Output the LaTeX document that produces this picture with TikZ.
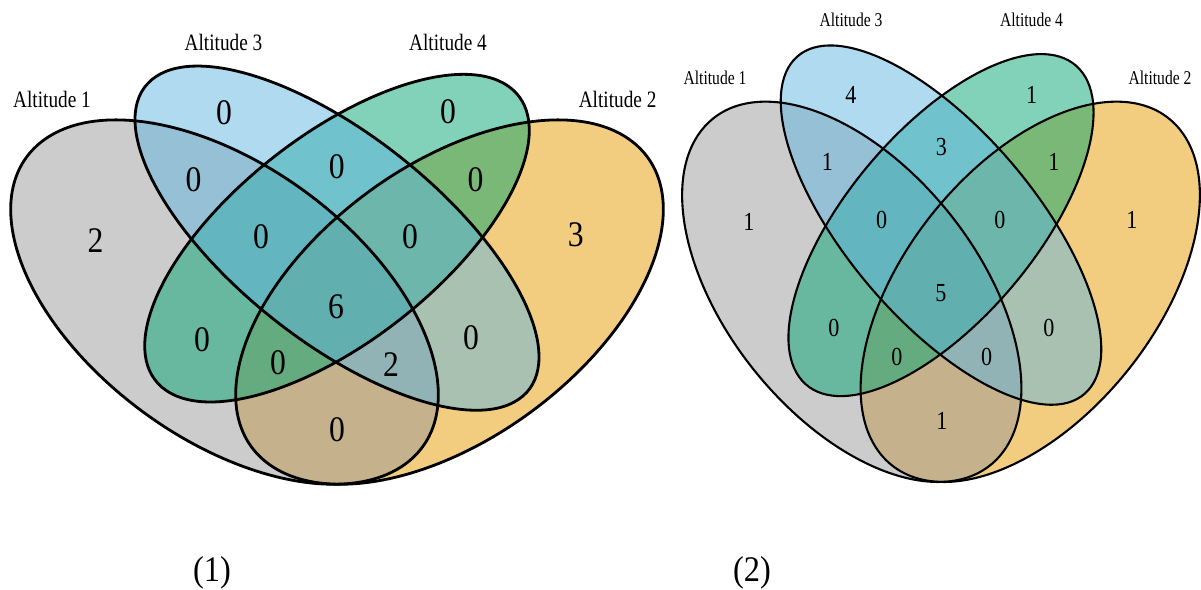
\documentclass[tikz,border=0pt]{standalone}
\usepackage{fontspec}
\setmainfont{Liberation Serif}
\definecolor{cgray}{RGB}{153,153,153}
\definecolor{cyel}{RGB}{229,155,0}
\definecolor{cgreen}{RGB}{5,165,115}
\definecolor{cblue}{RGB}{95,181,225}
\begin{document}
\begin{tikzpicture}[x=1pt,y=1pt,
  setfill/.style={fill opacity=0.5},
  labA/.style={font=\fontsize{23.5}{24}\selectfont, xscale=0.82, inner sep=0pt},
  numA/.style={font=\fontsize{36}{36}\selectfont, xscale=0.88, inner sep=0pt},
  labB/.style={font=\fontsize{19.5}{20}\selectfont, xscale=0.8, inner sep=0pt},
  numB/.style={font=\fontsize{26}{26}\selectfont, xscale=0.85, inner sep=0pt},
  caption/.style={font=\fontsize{36}{36}\selectfont, xscale=0.9, inner sep=0pt}]
\useasboundingbox (0,0) rectangle (1201,589);

% ---------- diagram (1) ----------
\begin{scope}[shift={(-38,-13.4)}, xscale=750, yscale=639]
  \fill[cyel, setfill, rotate around={45:(0.65,0.47)}] (0.65,0.47) ellipse [x radius=0.35, y radius=0.20];
  \fill[cgray, setfill, rotate around={135:(0.35,0.47)}] (0.35,0.47) ellipse [x radius=0.35, y radius=0.20];
  \fill[cgreen, setfill, rotate around={45:(0.5,0.57)}] (0.5,0.57) ellipse [x radius=0.33, y radius=0.15];
  \fill[cblue, setfill, rotate around={135:(0.5,0.57)}] (0.5,0.57) ellipse [x radius=0.35, y radius=0.15];
  \begin{scope}[line width=2.8pt]
  \draw[rotate around={45:(0.65,0.47)}] (0.65,0.47) ellipse [x radius=0.35, y radius=0.20];
  \draw[rotate around={135:(0.35,0.47)}] (0.35,0.47) ellipse [x radius=0.35, y radius=0.20];
  \draw[rotate around={45:(0.5,0.57)}] (0.5,0.57) ellipse [x radius=0.33, y radius=0.15];
  \draw[rotate around={135:(0.5,0.57)}] (0.5,0.57) ellipse [x radius=0.35, y radius=0.15];
  \end{scope}
\end{scope}

\node[labA] (a1) at (52,490) {Altitude 1};
\node[labA] (a3) at (223.5,547) {Altitude 3};
\node[labA] (a4) at (448,547) {Altitude 4};
\node[labA] (a2) at (617.6,490) {Altitude 2};

\node[numA] (n1a) at (95.6,348.5) {2};
\node[numA] (n1b) at (224,476.5) {0};
\node[numA] (n1c) at (448,477) {0};
\node[numA] (n1d) at (575.7,354) {3};
\node[numA] (n1e) at (193.6,409) {0};
\node[numA] (n1f) at (336.7,422.3) {0};
\node[numA] (n1g) at (475.6,409) {0};
\node[numA] (n1h) at (261,352) {0};
\node[numA] (n1i) at (410,352) {0};
\node[numA] (n1j) at (336,282) {6};
\node[numA] (n1k) at (202,249) {0};
\node[numA] (n1l) at (471,251) {0};
\node[numA] (n1m) at (278,226) {0};
\node[numA] (n1n) at (391,224) {2};
\node[numA] (n1o) at (337,159) {0};

% ---------- diagram (2) ----------
\begin{scope}[shift={(643.5,-16.3)}, xscale=595, yscale=667]
  \fill[cyel, setfill, rotate around={45:(0.65,0.47)}] (0.65,0.47) ellipse [x radius=0.35, y radius=0.20];
  \fill[cgray, setfill, rotate around={135:(0.35,0.47)}] (0.35,0.47) ellipse [x radius=0.35, y radius=0.20];
  \fill[cgreen, setfill, rotate around={45:(0.5,0.57)}] (0.5,0.57) ellipse [x radius=0.33, y radius=0.15];
  \fill[cblue, setfill, rotate around={135:(0.5,0.57)}] (0.5,0.57) ellipse [x radius=0.35, y radius=0.15];
  \begin{scope}[line width=2.1pt]
  \draw[rotate around={45:(0.65,0.47)}] (0.65,0.47) ellipse [x radius=0.35, y radius=0.20];
  \draw[rotate around={135:(0.35,0.47)}] (0.35,0.47) ellipse [x radius=0.35, y radius=0.20];
  \draw[rotate around={45:(0.5,0.57)}] (0.5,0.57) ellipse [x radius=0.33, y radius=0.15];
  \draw[rotate around={135:(0.5,0.57)}] (0.5,0.57) ellipse [x radius=0.35, y radius=0.15];
  \end{scope}
\end{scope}

\node[labB] (b1) at (715,510.7) {Altitude 1};
\node[labB] (b3) at (851,569) {Altitude 3};
\node[labB] (b4) at (1031.5,569) {Altitude 4};
\node[labB] (b2) at (1160,510.7) {Altitude 2};

\node[numB] (n2a) at (749,367.5) {1};
\node[numB] (n2b) at (851,494) {4};
\node[numB] (n2c) at (1031.7,494) {1};
\node[numB] (n2d) at (1132,369) {1};
\node[numB] (n2e) at (827.5,427.3) {1};
\node[numB] (n2f) at (941.5,442) {3};
\node[numB] (n2g) at (1054,427.3) {1};
\node[numB] (n2h) at (881.6,369) {0};
\node[numB] (n2i) at (1000,369) {0};
\node[numB] (n2j) at (941,296) {5};
\node[numB] (n2k) at (834,261) {0};
\node[numB] (n2l) at (1049,261) {0};
\node[numB] (n2m) at (897,232) {0};
\node[numB] (n2n) at (986.6,232) {0};
\node[numB] (n2o) at (942,168) {1};

% ---------- captions ----------
\node[caption] (c1) at (212,16) {(1)};
\node[caption] (c2) at (752,16) {(2)};
\end{tikzpicture}
\end{document}
